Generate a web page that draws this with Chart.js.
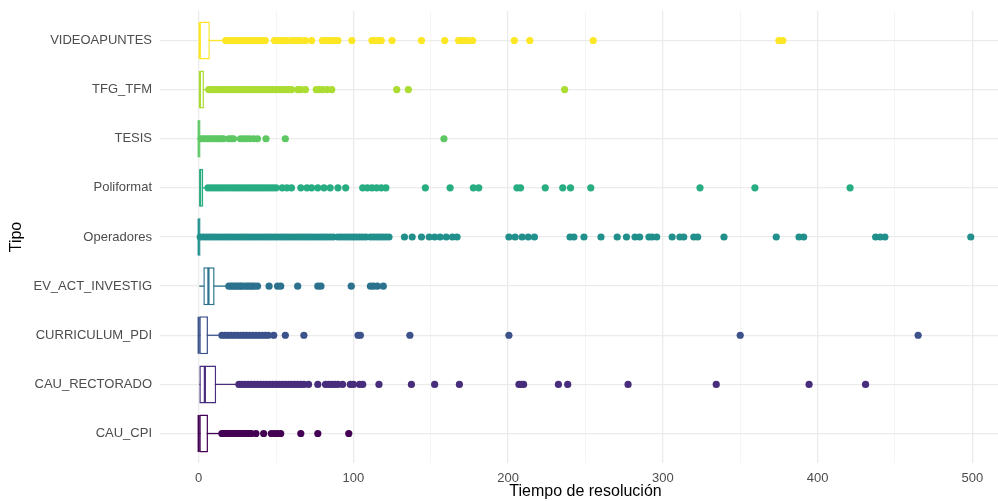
<!DOCTYPE html>
<html>
<head>
<meta charset="utf-8">
<script src="https://cdn.jsdelivr.net/npm/chart.js@4.4.1/dist/chart.umd.min.js"></script>
<style>
  html, body { margin: 0; padding: 0; background: #ffffff; overflow: hidden; width: 998px; height: 501px; }
  #wrap { width: 1011px; height: 501px; }
</style>
</head>
<body>
<div id="wrap"><canvas id="c" width="1011" height="501"></canvas></div>
<script>
// Categories from bottom (position 1) to top (position 9)
const categories = ['CAU_CPI', 'CAU_RECTORADO', 'CURRICULUM_PDI', 'EV_ACT_INVESTIG',
  'Operadores', 'Poliformat', 'TESIS', 'TFG_TFM', 'VIDEOAPUNTES'];
const colors = ['#440154', '#472D7B', '#3B528B', '#2C728E', '#21908C',
  '#27AD81', '#5DC863', '#AADC32', '#FDE725'];

// Box statistics (resolution time)
const whiskerLow  = [0, 0, 0, 0, 0, 0, 0, 0, 0];
const q1          = [0, 0, 0, 3, 0, 0, 0, 0, 0];
const median      = [0, 4, 0, 6.3, 0, 1, 0, 0.8, 0.6];
const q3          = [6, 11.3, 6, 10.3, 1.2, 3, 1.2, 3.4, 7.2];
const whiskerHigh = [14, 26, 14, 19, 1.2, 5.5, 1.2, 6, 17];

// Outlying observations per category
const outCAU_CPI = [15, 16, 17, 18, 19, 20, 21, 22, 23, 24, 25, 26, 27, 28, 29, 30, 31, 32, 33, 34,
  37, 42, 47, 49, 51, 53, 66, 77, 97];
const outCAU_RECTORADO = [26, 28, 30, 32, 34, 36, 38, 40, 42, 44, 46, 48, 50, 52, 54, 56, 58, 60, 62, 64,
  66, 68, 71, 77, 82, 84, 86, 88, 90, 93, 98, 100, 104, 106, 116.5, 137.5, 152.5, 168.5,
  207, 208.5, 210, 232.5, 238.5, 277.5, 334.5, 394.5, 431];
const outCURRICULUM_PDI = [15, 17, 19, 21, 23, 25, 27, 29, 31, 33, 35, 37, 39, 41, 43, 45,
  48.5, 56, 68, 103, 104.5, 136.5, 200.5, 350, 465];
const outEV_ACT_INVESTIG = [19.5, 21, 22.5, 24, 25.5, 27, 28, 30, 31.5, 33, 34.5, 36, 38,
  45.5, 51, 53, 64, 77, 79, 98.6, 111, 113, 115.5, 119.3];
const outOperadores = [1, 3, 5, 7, 9, 11, 13, 15, 17, 19, 21, 23, 25, 27, 29, 31, 33, 35, 37, 39,
  41, 43, 45, 47, 49, 51, 53, 55, 57, 59, 61, 63, 65, 67, 69, 71, 73, 75, 77,
  79, 81, 83, 85, 87, 90, 92, 94, 96, 98, 100, 102, 104, 106, 108, 111, 113, 115, 117, 119, 121, 123,
  133, 138, 144, 149, 152.5, 156, 160, 164, 167, 200.5, 204.5, 209, 213, 217,
  240, 242.5, 249, 260, 270.5, 276.5, 282, 285, 291, 293, 296, 306, 311, 313.5, 320, 322.5,
  339.5, 373.3, 388, 391, 437.5, 440.5, 443.5, 499];
const outPoliformat = [6, 8, 10, 12, 14, 16, 18, 20, 22, 24, 26, 28, 30, 32, 34, 36, 38, 40, 42, 44,
  46, 48, 50, 54, 57, 60, 66, 70, 73, 77, 81, 85, 90, 95, 106, 109, 112, 115, 118, 121,
  146.5, 162.5, 177.5, 181, 205.7, 208, 224, 235.3, 240.3, 253.4, 324, 359.5, 421];
const outTESIS = [1.5, 3, 4.5, 6, 7.5, 9, 10.5, 12, 13.5, 15, 16, 19.5, 21, 22.5,
  27, 29, 31, 33, 35.5, 38, 43.5, 56, 158.5];
const outTFG_TFM = [6.5, 8.5, 10.5, 12.5, 14.5, 16.5, 18.5, 20.5, 22.5, 24.5, 26.5, 28.5, 30,
  32, 34, 36, 38, 40, 42, 44, 46, 48, 50, 52, 54, 56, 58, 60, 64, 66, 69,
  76, 78, 80, 83, 86, 128, 135.5, 236.5];
const outVIDEOAPUNTES = [17.5, 19.5, 21.5, 23.5, 25.5, 27.5, 29.5, 31.5, 33.5, 35.5, 37.5, 39.5, 41.5, 43,
  49, 51, 53, 55, 57, 60, 62, 64, 66, 69, 73, 80, 82, 84, 86, 88, 90, 99,
  112, 114, 116, 118, 125, 144, 159, 168, 170, 172, 174, 177, 204, 214, 255, 375, 377.5];
const outliers = [outCAU_CPI, outCAU_RECTORADO, outCURRICULUM_PDI, outEV_ACT_INVESTIG,
  outOperadores, outPoliformat, outTESIS, outTFG_TFM, outVIDEOAPUNTES];

// Axis ticks
const xTickLabels = [0, 100, 200, 300, 400, 500];
const xMinorBreaks = [50, 150, 250, 350, 450];

const pos = i => i + 1;

const datasets = [];

// whiskers (drawn under the boxes)
datasets.push({
  type: 'bar',
  data: categories.map((c, i) => ({ y: pos(i), x: [whiskerLow[i], whiskerHigh[i]] })),
  backgroundColor: colors,
  borderWidth: 0,
  grouped: false,
  barPercentage: 0.95,
  categoryPercentage: 0.95,
  maxBarThickness: 1.3,
  order: 4
});

// boxes from Q1 to Q3
datasets.push({
  type: 'bar',
  data: categories.map((c, i) => ({ y: pos(i), x: [q1[i], q3[i]] })),
  backgroundColor: '#ffffff',
  borderColor: colors,
  borderWidth: 1.5,
  borderSkipped: false,
  grouped: false,
  barPercentage: 0.95,
  categoryPercentage: 0.95,
  maxBarThickness: 38,
  order: 3
});

// medians as vertical strokes across the box
datasets.push({
  type: 'scatter',
  indexAxis: 'x',
  data: categories.map((c, i) => ({ x: median[i], y: pos(i) })),
  pointStyle: 'line',
  pointRotation: 90,
  pointRadius: 18.5,
  pointBorderColor: colors,
  pointBorderWidth: 2.2,
  order: 2
});

// outlier points
outliers.forEach((vals, i) => {
  datasets.push({
    type: 'scatter',
    indexAxis: 'x',
    data: vals.map(v => ({ x: v, y: pos(i) })),
    pointRadius: 3.6,
    pointBackgroundColor: colors[i],
    pointBorderWidth: 0,
    order: 1
  });
});

const fontFamily = "'Liberation Sans', Arial, sans-serif";

new Chart(document.getElementById('c'), {
  type: 'bar',
  data: { datasets },
  options: {
    indexAxis: 'y',
    responsive: false,
    animation: false,
    events: [],
    layout: { autoPadding: false, padding: { top: 11, left: 0, right: 0, bottom: 0 } },
    plugins: { legend: { display: false }, tooltip: { enabled: false } },
    scales: {
      x: {
        type: 'linear',
        position: 'bottom',
        min: -25,
        max: 525,
        offset: false,
        beginAtZero: false,
        border: { display: false },
        afterBuildTicks: s => {
          s.ticks = xTickLabels.concat(xMinorBreaks).sort((a, b) => a - b).map(v => ({ value: v }));
        },
        afterFit: s => {
          s.height = 38;
          s.paddingLeft = 0;
          s.paddingRight = 0;
        },
        grid: {
          drawTicks: false,
          color: ctx => (ctx.tick && xTickLabels.includes(ctx.tick.value)) ? '#EBEBEB' : '#F2F2F2',
          lineWidth: ctx => (ctx.tick && xTickLabels.includes(ctx.tick.value)) ? 1.3 : 0.8
        },
        ticks: {
          autoSkip: false,
          maxRotation: 0,
          padding: 8,
          color: '#4D4D4D',
          font: { family: fontFamily, size: 13 },
          callback: v => xTickLabels.includes(v) ? String(v) : ''
        },
        title: {
          display: true,
          text: 'Tiempo de resolución',
          color: '#000000',
          font: { family: fontFamily, size: 16 },
          padding: { top: 0, bottom: 0 }
        }
      },
      y: {
        type: 'linear',
        position: 'left',
        min: 0.4,
        max: 9.6,
        offset: false,
        border: { display: false },
        afterBuildTicks: s => {
          s.ticks = categories.map((c, i) => ({ value: pos(i) }));
        },
        afterFit: s => {
          s.width = 160;
          s.paddingTop = 0;
          s.paddingBottom = 0;
        },
        grid: {
          offset: false,
          drawTicks: false,
          color: '#EBEBEB',
          lineWidth: 1.3
        },
        ticks: {
          autoSkip: false,
          padding: 8,
          color: '#4D4D4D',
          font: { family: fontFamily, size: 13 },
          callback: v => categories[Math.round(v) - 1] || ''
        },
        title: {
          display: true,
          text: 'Tipo',
          color: '#000000',
          font: { family: fontFamily, size: 16 },
          padding: { top: 7, bottom: 0 }
        }
      }
    }
  }
});
</script>
</body>
</html>
